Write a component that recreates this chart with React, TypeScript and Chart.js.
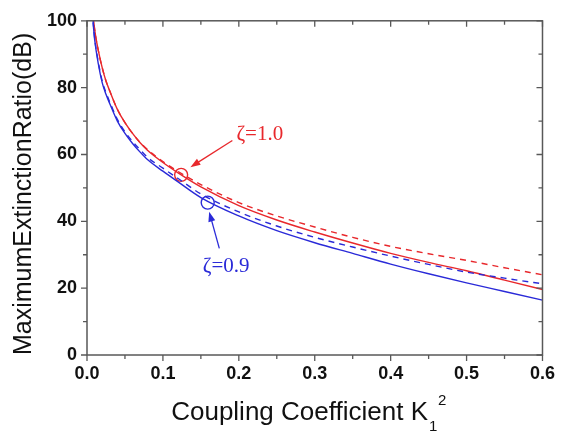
import React, { useEffect, useRef } from "react";
import { Chart, registerables } from "chart.js";
Chart.register(...registerables);

const kValues = [0.008, 0.01, 0.015, 0.02, 0.025, 0.03, 0.04, 0.05, 0.06, 0.07, 0.08, 0.1, 0.12, 0.15, 0.2, 0.25, 0.3, 0.35, 0.4, 0.45, 0.5, 0.55, 0.6];
const redSolid = [102, 97.5, 91, 86, 82, 79, 73.5, 69.5, 66.3, 63.5, 61.2, 57.6, 54.5, 50.3, 44.7, 40.4, 36.8, 33.5, 30.4, 27.7, 25.2, 22.4, 19.6];
const redDashed = [102, 97.5, 91, 86, 82, 79, 73.5, 69.5, 66.3, 63.6, 61.4, 57.9, 54.9, 51, 45.6, 41.6, 38.3, 35.2, 32.5, 30.3, 28.3, 26.1, 24.0];
const blueSolid = [99.5, 94.5, 87, 81.5, 78, 75.2, 70, 66.3, 63.3, 60.7, 58.4, 55, 51.8, 47.1, 41.6, 37.2, 33.6, 30.4, 27.2, 24.3, 21.6, 19.0, 16.4];
const blueDashed = [100, 95, 87.5, 82, 78.5, 75.7, 70.5, 66.8, 63.9, 61.4, 59.1, 55.9, 52.8, 48.2, 42.8, 38.6, 35.2, 32.3, 29.6, 27.1, 24.8, 23.0, 21.3];

const markerX = [0.124, 0.159];
const markerY = [53.9, 45.6];

const annotationLabels = ["ζ=1.0", "ζ=0.9"];
const annotationX = [0.2276, 0.1834];
const annotationY = [65.9, 26.5];
const arrowStartX = [0.1915, 0.1743];
const arrowStartY = [64.2, 31.9];
const arrowEndX = [0.1362, 0.1609];
const arrowEndY = [56.2, 42.9];

const xTitle = "Coupling Coefficient K";
const xTitleSub = "1";
const xTitleSup = "2";
const yTitle = "MaximumExtinctionRatio(dB)";

const RED = "#e8282c";
const BLUE = "#2a2ad8";
const annColors = [RED, BLUE];
const FRAME = "#585858";
const SANS = "'Liberation Sans', Arial, Helvetica, sans-serif";
const SERIF = "'Liberation Serif', 'Times New Roman', serif";

const pts = (ys: number[]) => kValues.map((x, i) => ({ x, y: ys[i] }));

const decorPlugin = {
  id: "decor",
  afterDraw(chart: any) {
    const { ctx, chartArea: a, scales } = chart;
    const xs = scales.x;
    const ys = scales.y;
    ctx.save();
    // frame
    ctx.strokeStyle = FRAME;
    ctx.lineWidth = 1.5;
    ctx.strokeRect(a.left, a.top, a.right - a.left, a.bottom - a.top);
    // ticks
    ctx.lineWidth = 1.3;
    ctx.beginPath();
    for (let i = 0; i <= 12; i++) {
      const v = i * 0.05;
      const px = xs.getPixelForValue(v);
      const len = i % 2 === 0 ? 6 : 4;
      ctx.moveTo(px, a.bottom);
      ctx.lineTo(px, a.bottom + len);
      ctx.moveTo(px, a.top);
      ctx.lineTo(px, a.top + len);
    }
    for (let i = 0; i <= 10; i++) {
      const v = i * 10;
      const py = ys.getPixelForValue(v);
      const len = i % 2 === 0 ? 6 : 4;
      ctx.moveTo(a.left, py);
      ctx.lineTo(a.left - len, py);
      ctx.moveTo(a.right, py);
      ctx.lineTo(a.right - len, py);
    }
    ctx.stroke();

    // annotations
    for (let i = 0; i < annotationLabels.length; i++) {
      const c = annColors[i];
      ctx.fillStyle = c;
      ctx.strokeStyle = c;
      ctx.font = `21px ${SERIF}`;
      ctx.textAlign = "center";
      ctx.textBaseline = "middle";
      ctx.fillText(annotationLabels[i], xs.getPixelForValue(annotationX[i]), ys.getPixelForValue(annotationY[i]));
      const x1 = xs.getPixelForValue(arrowStartX[i]);
      const y1 = ys.getPixelForValue(arrowStartY[i]);
      const x2 = xs.getPixelForValue(arrowEndX[i]);
      const y2 = ys.getPixelForValue(arrowEndY[i]);
      const ang = Math.atan2(y2 - y1, x2 - x1);
      const hl = 10;
      const hw = 3.5;
      ctx.lineWidth = 1.3;
      ctx.beginPath();
      ctx.moveTo(x1, y1);
      ctx.lineTo(x2 - Math.cos(ang) * hl * 0.8, y2 - Math.sin(ang) * hl * 0.8);
      ctx.stroke();
      ctx.beginPath();
      ctx.moveTo(x2, y2);
      ctx.lineTo(x2 - Math.cos(ang) * hl - Math.sin(ang) * hw, y2 - Math.sin(ang) * hl + Math.cos(ang) * hw);
      ctx.lineTo(x2 - Math.cos(ang) * hl + Math.sin(ang) * hw, y2 - Math.sin(ang) * hl - Math.cos(ang) * hw);
      ctx.closePath();
      ctx.fill();
    }

    // x title
    ctx.fillStyle = "#111";
    ctx.textAlign = "left";
    ctx.textBaseline = "alphabetic";
    ctx.font = `26px ${SANS}`;
    const wMain = ctx.measureText(xTitle).width;
    ctx.font = `15px ${SANS}`;
    const wSub = ctx.measureText(xTitleSub).width;
    const total = wMain + wSub + 8;
    const cx = (a.left + a.right) / 2;
    const startX = cx - total / 2 - 7;
    ctx.font = `26px ${SANS}`;
    ctx.fillText(xTitle, startX, 420);
    ctx.font = `15px ${SANS}`;
    ctx.fillText(xTitleSub, startX + wMain + 1, 431);
    ctx.fillText(xTitleSup, startX + wMain + 10, 405);

    // y title
    ctx.save();
    ctx.translate(31, (a.top + a.bottom) / 2 + 6);
    ctx.rotate(-Math.PI / 2);
    ctx.font = `25px ${SANS}`;
    ctx.textAlign = "center";
    ctx.textBaseline = "alphabetic";
    ctx.fillText(yTitle, 0, 0);
    ctx.restore();

    ctx.restore();
  },
};

export default function App() {
  const ref = useRef<HTMLCanvasElement | null>(null);
  useEffect(() => {
    document.body.style.margin = "0";
    const canvas = ref.current;
    if (!canvas) return;
    const lineDs = (label: string, ys: number[], color: string, dashed: boolean) => ({
      type: "line" as const,
      label,
      data: pts(ys),
      borderColor: color,
      backgroundColor: color,
      borderWidth: 1.4,
      borderDash: dashed ? [6, 5] : [],
      pointRadius: 0,
      fill: false,
      tension: 0.4,
      cubicInterpolationMode: "monotone" as const,
    });
    const chart = new Chart(canvas, {
      type: "line",
      data: {
        datasets: [
          lineDs("ζ=0.9 dashed", blueDashed, BLUE, true),
          lineDs("ζ=0.9", blueSolid, BLUE, false),
          lineDs("ζ=1.0 dashed", redDashed, RED, true),
          lineDs("ζ=1.0", redSolid, RED, false),
          {
            type: "scatter" as const,
            label: "markers",
            data: markerX.map((x, i) => ({ x, y: markerY[i] })),
            pointRadius: 6.5,
            pointStyle: "circle",
            backgroundColor: "rgba(0,0,0,0)",
            borderColor: [RED, BLUE],
            pointBorderColor: [RED, BLUE],
            pointBorderWidth: 1.4,
            showLine: false,
          } as any,
        ],
      },
      options: {
        responsive: false,
        animation: false,
        devicePixelRatio: 1,
        layout: { padding: { top: 15, right: 15, left: 0, bottom: 0 } },
        plugins: { legend: { display: false }, tooltip: { enabled: false } },
        scales: {
          x: {
            type: "linear",
            min: 0,
            max: 0.6,
            grid: { display: false, drawTicks: false, tickLength: 0 },
            border: { display: false },
            ticks: {
              stepSize: 0.1,
              padding: 8,
              color: "#111",
              font: { family: SANS, size: 18, weight: "bold" },
              maxRotation: 0,
              callback: (v: any) => Number(v).toFixed(1),
            },
            afterFit: (s: any) => {
              s.height = 79;
            },
          },
          y: {
            type: "linear",
            min: 0,
            max: 100,
            grid: { display: false, drawTicks: false, tickLength: 0 },
            border: { display: false },
            ticks: {
              stepSize: 20,
              padding: 10,
              color: "#111",
              font: { family: SANS, size: 18, weight: "bold" },
            },
            afterFit: (s: any) => {
              s.width = 87;
            },
          },
        },
      },
      plugins: [decorPlugin],
    });
    return () => chart.destroy();
  }, []);
  return (
    <div style={{ width: 563, height: 434, background: "#fff" }}>
      <canvas ref={ref} width={563} height={434} />
    </div>
  );
}
